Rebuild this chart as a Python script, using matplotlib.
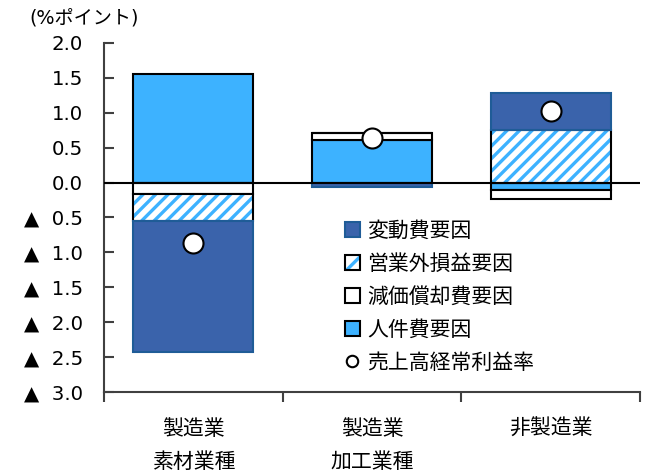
import numpy as np
import matplotlib
matplotlib.use("Agg")
import matplotlib.pyplot as plt
from matplotlib.patches import Patch
from matplotlib.lines import Line2D

plt.rcParams['font.family'] = ['DejaVu Sans', 'Noto Sans CJK JP']
plt.rcParams['hatch.linewidth'] = 1.6

DPI = 150

# data (%ポイント)
categories = ["製造業\n素材業種", "製造業\n加工業種", "非製造業"]
variable_cost = [-1.87, -0.07, 0.52]     # 変動費要因
non_operating = [-0.38, 0.00, 0.76]      # 営業外損益要因
depreciation = [-0.17, 0.10, -0.14]      # 減価償却費要因
personnel = [1.55, 0.61, -0.10]          # 人件費要因
profit_ratio = [-0.86, 0.64, 1.03]       # 売上高経常利益率

yticks = [2.0, 1.5, 1.0, 0.5, 0.0, -0.5, -1.0, -1.5, -2.0, -2.5, -3.0]

DARK = "#3A63AB"
DARK_EDGE = "#1F5C97"
LIGHT = "#3DB2FF"
HATCH = "////"

fig = plt.figure(figsize=(649 / DPI, 472 / DPI), dpi=DPI)
ax = fig.add_axes([104 / 649, 80 / 472, 536 / 649, 349 / 472])

x = np.arange(len(categories))
w = 0.67
pos = np.zeros(len(x))
neg = np.zeros(len(x))

def stack(vals):
    vals = np.array(vals)
    bottom = np.where(vals >= 0, pos, neg)
    pos[:] += np.where(vals >= 0, vals, 0)
    neg[:] += np.where(vals < 0, vals, 0)
    return vals, bottom

# stacking order: personnel, depreciation, non-operating, variable
v, b = stack(personnel)
ax.bar(x, v, w, bottom=b, color=LIGHT, edgecolor="black", lw=1.0, zorder=2)
v, b = stack(depreciation)
ax.bar(x, v, w, bottom=b, color="white", edgecolor="black", lw=1.0, zorder=2)
v, b = stack(non_operating)
ax.bar(x, v, w, bottom=b, color="white", edgecolor=LIGHT, hatch=HATCH, lw=0, zorder=2)
ax.bar(x, v, w, bottom=b, fill=False, edgecolor="black", lw=1.0, zorder=2)
v, b = stack(variable_cost)
ax.bar(x, v, w, bottom=b, color=DARK, edgecolor=DARK_EDGE, lw=1.0, zorder=2)

ax.axhline(0, color="black", lw=1.0, zorder=3)
ax.plot(x, profit_ratio, "o", ms=9.6, mfc="white", mec="black", mew=1.0, zorder=4)

ax.set_xlim(-0.5, 2.5)
ax.set_ylim(-3.0, 2.0)
ax.set_yticks(yticks)
ax.set_yticklabels([f"{t:.1f}" if t >= 0 else f"▲  {abs(t):.1f}" for t in yticks])
ax.tick_params(axis="y", direction="in", length=5, width=1.0, color="#404040",
               pad=10, labelsize=9.5)

ax.set_xticks([-0.5, 0.5, 1.5, 2.5])
ax.set_xticklabels([])
ax.tick_params(axis="x", which="major", direction="out", length=5, width=1.0, color="#404040")
ax.set_xticks(x, minor=True)
ax.set_xticklabels(categories, minor=True, linespacing=1.8)
ax.tick_params(axis="x", which="minor", length=0, pad=13, labelsize=10)

for s in ["top", "right"]:
    ax.spines[s].set_visible(False)
for s in ["left", "bottom"]:
    ax.spines[s].set_color("#404040")
    ax.spines[s].set_linewidth(1.0)

fig.text(84 / 649, 1 - 18 / 472, "(%ポイント)", ha="center", va="center", fontsize=9.2)

handles = [
    Patch(facecolor=DARK, edgecolor=DARK_EDGE, lw=1.0),
    (Patch(facecolor="white", edgecolor=LIGHT, hatch="///", lw=0),
     Patch(fill=False, edgecolor="black", lw=1.0)),
    Patch(facecolor="white", edgecolor="black", lw=1.0),
    Patch(facecolor=LIGHT, edgecolor="black", lw=1.0),
    Line2D([], [], marker="o", ls="none", ms=5.5, mfc="white", mec="black", mew=1.0),
]
labels = ["変動費要因", "営業外損益要因", "減価償却費要因", "人件費要因", "売上高経常利益率"]
fig.legend(handles, labels, loc="upper left", bbox_to_anchor=(345 / 649, 1 - 221 / 472),
           frameon=False, fontsize=10, handlelength=0.7, handleheight=0.7,
           handletextpad=0.35, labelspacing=0.62, borderpad=0, borderaxespad=0)

fig.savefig("out.png", dpi=DPI)
